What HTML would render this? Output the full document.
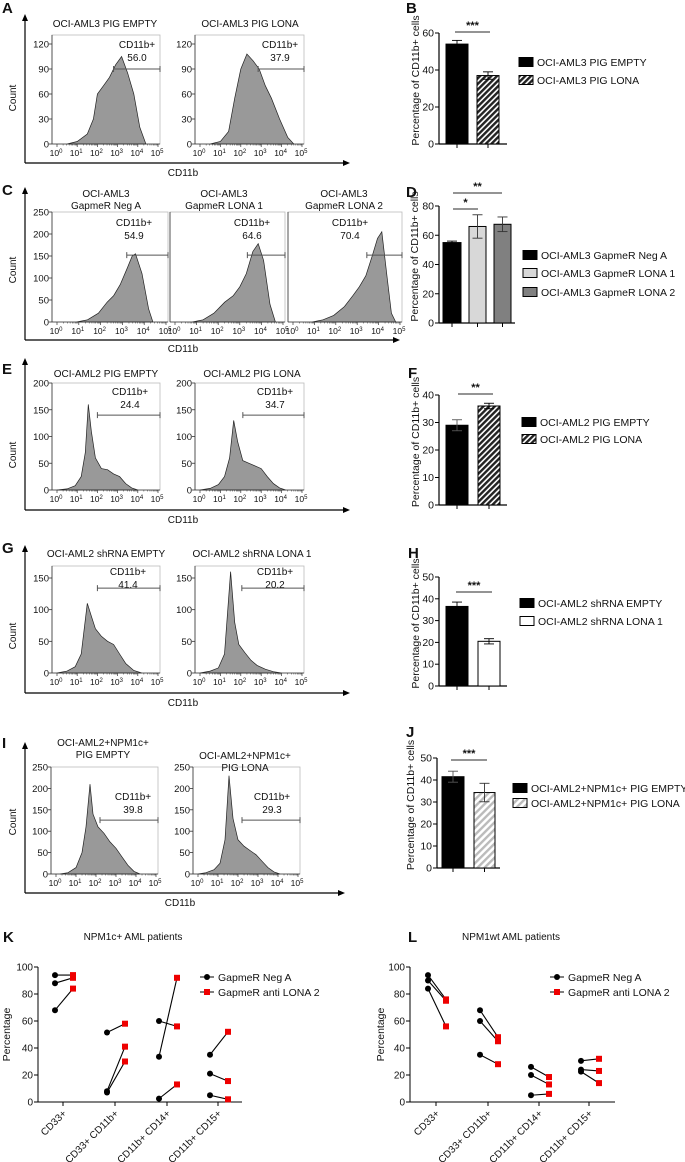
<!DOCTYPE html>
<html><head><meta charset="utf-8">
<style>
html,body{margin:0;padding:0;background:#fff;}
svg{display:block;font-family:"Liberation Sans Narrow","Liberation Sans",Arial,sans-serif;}
</style></head>
<body>
<svg id="fig" width="685" height="1162" viewBox="0 0 685 1162" xmlns="http://www.w3.org/2000/svg">
<defs>
<pattern id="hatchDark" patternUnits="userSpaceOnUse" width="4" height="4" patternTransform="rotate(45)">
<rect width="4" height="4" fill="#fff"/><rect width="2.4" height="4" fill="#222"/></pattern>
<pattern id="hatchLight" patternUnits="userSpaceOnUse" width="5" height="5" patternTransform="rotate(45)">
<rect width="5" height="5" fill="#fff"/><rect width="2.4" height="5" fill="#bbb"/></pattern>
</defs>
<g id="root"></g>
</svg>
<script>
// ---------- DATA ----------
// histogram A
const a1D=[0.5,1.0,1.5,1.8,2.0,2.3,2.6,2.9,3.2,3.5,3.8,4.1,4.4];
const a1C=[0,3,12,30,60,70,80,95,105,85,60,20,0];
const a2D=[0.5,1.0,1.4,1.7,2.0,2.3,2.6,2.9,3.2,3.5,3.9,4.3,4.6];
const a2C=[0,3,15,55,90,108,100,90,70,55,30,8,0];
// histogram C
const c1D=[0.9,1.4,1.9,2.3,2.6,2.9,3.2,3.45,3.6,3.9,4.2,4.4];
const c1C=[0,5,20,45,60,85,120,150,155,110,30,0];
const c2D=[0.8,1.3,1.8,2.3,2.7,3.0,3.3,3.6,3.85,4.1,4.4,4.65];
const c2C=[0,5,20,45,60,80,110,160,178,140,40,0];
const c3D=[0.9,1.4,1.9,2.4,2.8,3.1,3.4,3.7,3.95,4.15,4.4,4.6,4.8];
const c3C=[0,5,15,35,60,80,105,150,190,205,100,20,0];
// histogram E
const e1D=[0,0.5,0.9,1.2,1.4,1.55,1.7,1.9,2.2,2.5,2.8,3.1,3.4,3.7,4.0];
const e1C=[0,2,8,25,70,160,110,60,40,38,30,25,12,4,0];
const e2D=[0,0.5,0.9,1.2,1.45,1.65,1.85,2.1,2.4,2.7,3.0,3.3,3.6,3.9,4.2];
const e2C=[0,3,10,25,60,130,90,55,50,45,40,25,12,4,0];
// histogram G
const g1D=[0,0.5,0.9,1.2,1.5,1.7,1.9,2.2,2.5,2.8,3.1,3.4,3.8,4.2];
const g1C=[0,3,10,30,110,90,70,58,50,45,30,15,4,0];
const g2D=[0,0.5,0.9,1.2,1.5,1.7,1.9,2.2,2.5,2.8,3.2,3.6,4.0];
const g2C=[0,3,8,30,160,80,45,32,20,12,6,2,0];
// histogram I
const i1D=[0.2,0.6,1.0,1.3,1.5,1.7,1.85,2.1,2.4,2.7,3.0,3.3,3.6,3.9,4.2];
const i1C=[0,3,15,50,110,210,140,110,95,75,60,40,20,6,0];
const i2D=[0,0.4,0.8,1.1,1.35,1.55,1.75,2.0,2.3,2.6,2.9,3.2,3.5,3.8,4.1];
const i2C=[0,3,10,25,80,230,130,80,65,55,45,30,15,5,0];
// bar charts
const bVals=[54,37], bErr=[2,2];
const dVals=[55,66,67.5], dErr=[1,8,5];
const fVals=[29,36], fErr=[2,1];
const hVals=[36.5,20.5], hErr=[2,1.2];
const jVals=[41.5,34.3], jErr=[2.5,4.2];
// patient panels
const patCats=["CD33+","CD33+ CD11b+","CD11b+ CD14+","CD11b+ CD15+"];
const kNeg=[[94,88,68],[51.5,8,7],[60,33.5,2.5],[35,21,5]];
const kLona=[[94,92,84],[58,41,30],[56,92,13],[52,15.5,2]];
const lNeg=[[94,90,84],[68,60,35],[26,20,5],[30.5,24,22.5]];
const lLona=[[76,75,56],[48,45,28],[18.5,13,6],[32,23,14]];

// ---------- HELPERS ----------
const NS="http://www.w3.org/2000/svg";
const root=document.getElementById('root');
function el(tag,attrs,parent,txt){
  const e=document.createElementNS(NS,tag);
  for(const k in attrs)e.setAttribute(k,attrs[k]);
  if(txt!==undefined)e.textContent=txt;
  (parent||root).appendChild(e);return e;
}
function grp(name){const g=el('g',{});
  
  
  return g;}
function txt(g,x,y,s,size,anchor,extra){
  const t=el('text',Object.assign({x:x,y:y,'font-size':size||10,'text-anchor':anchor||'middle',fill:'#111'},extra||{}),g,s);
  return t;}
function panelLabel(x,y,s){const g=grp('panel-label-'+s.toLowerCase());
  txt(g,x,y,s,15,'start',{'font-weight':'bold','font-family':'Liberation Sans, sans-serif'});}
function arrowAxes(name,x,top,y,right,lblX,lblY,countY){
  const g=grp(name);
  el('line',{x1:x,y1:top+5,x2:x,y2:y,stroke:'#000','stroke-width':1.2},g);
  el('polygon',{points:`${x-3},${top+7} ${x},${top} ${x+3},${top+7}`,fill:'#000'},g);
  el('line',{x1:x,y1:y,x2:right-5,y2:y,stroke:'#000','stroke-width':1.2},g);
  el('polygon',{points:`${right-7},${y-3} ${right},${y} ${right-7},${y+3}`,fill:'#000'},g);
  const t=txt(g,lblX,lblY,'CD11b',10);
  
  
  const c=txt(g,0,0,'Count',10,'middle',{transform:`translate(16,${countY}) rotate(-90)`});
  
  
}
function hist(name,o){
  const g=grp(name);
  const bx=o.bx,bw=o.bw,top=o.top,y0=o.y0;
  const ys=v=>y0-(v/o.refV)*(y0-o.refP);
  const xs=d=>bx+5+d*(bw-7)/5;
  el('rect',{x:bx,y:top,width:bw,height:y0-top,fill:'none',stroke:'#bbb','stroke-width':0.8},g);
  // histogram
  let pts=`${xs(o.d[0])},${ys(0)} `;
  for(let i=0;i<o.d.length;i++){pts+=`${xs(o.d[i]).toFixed(1)},${ys(o.c[i]).toFixed(1)} `;}
  pts+=`${xs(o.d[o.d.length-1])},${ys(0)}`;
  const p=el('polygon',{points:pts,fill:'#999',stroke:'#222','stroke-width':0.7},g);
  
  
  // y axis
  el('line',{x1:bx,y1:top,x2:bx,y2:y0,stroke:'#333','stroke-width':0.8},g);
  o.ticks.forEach(v=>{const y=ys(v);
    el('line',{x1:bx-3,y1:y,x2:bx,y2:y,stroke:'#333','stroke-width':0.8},g);
    txt(g,bx-3,y+3.5,String(v),9.5,'end');});
  // x ticks
  el('line',{x1:bx,y1:y0,x2:bx+bw,y2:y0,stroke:'#333','stroke-width':0.8},g);
  for(let d=0;d<=5;d++){const x=xs(d);
    el('line',{x1:x,y1:y0,x2:x,y2:y0+3,stroke:'#333','stroke-width':0.7},g);
    if(d<5)for(let m=2;m<10;m++){const xm=xs(d+Math.log10(m));el('line',{x1:xm,y1:y0,x2:xm,y2:y0+1.5,stroke:'#333','stroke-width':0.5},g);}
    const t=txt(g,x-1,y0+12,'10',8.5,'middle');
    el('tspan',{dy:-3,'font-size':6},t,String(d));}
  // gate
  const gy=ys(o.gC),gx1=xs(o.gD),gx2=bx+bw;
  const gg=el('g',{},g);
  
  
  el('line',{x1:gx1,y1:gy,x2:gx2,y2:gy,stroke:'#555','stroke-width':1},gg);
  el('line',{x1:gx1,y1:gy-3,x2:gx1,y2:gy+3,stroke:'#555','stroke-width':1},gg);
  el('line',{x1:gx2,y1:gy-3,x2:gx2,y2:gy+3,stroke:'#555','stroke-width':1},gg);
  txt(gg,o.lx,o.ly,'CD11b+',10);
  txt(gg,o.lx,o.ly+13,o.val,10);
  // title
  o.title.forEach((s,i)=>txt(g,o.tx,o.ty+i*12,s,10));
}
function bars(name,o){
  const g=grp(name);
  const ys=v=>o.y0-(v/o.max)*(o.y0-o.yTop);
  el('line',{x1:o.ax,y1:o.yTop,x2:o.ax,y2:o.y0,stroke:'#000','stroke-width':1.2},g);
  el('line',{x1:o.ax,y1:o.y0,x2:o.xEnd,y2:o.y0,stroke:'#000','stroke-width':1.2},g);
  o.ticks.forEach(v=>{const y=ys(v);
    el('line',{x1:o.ax-4,y1:y,x2:o.ax,y2:y,stroke:'#000','stroke-width':1},g);
    txt(g,o.ax-5,y+3.5,String(v),10.5,'end',{'font-family':'Liberation Sans, sans-serif'});});
  const yt=txt(g,0,0,'Percentage of CD11b+ cells',10.5,'middle',{'font-family':'Liberation Sans, sans-serif',transform:`translate(${o.titleX},${(o.yTop+o.y0)/2-8}) rotate(-90)`});
  
  
  o.vals.forEach((v,i)=>{
    const [x1,x2]=o.bx[i];const y=ys(v);const cx=(x1+x2)/2;
    const r=el('rect',{x:x1,y:y,width:x2-x1,height:o.y0-y,fill:o.fills[i],stroke:'#000','stroke-width':1},g);
    
    
    const eh=ys(v+o.err[i]),el2=ys(v-o.err[i]);
    el('line',{x1:cx,y1:eh,x2:cx,y2:el2,stroke:o.errC[i],'stroke-width':0.9},g);
    el('line',{x1:cx-5,y1:eh,x2:cx+5,y2:eh,stroke:o.errC[i],'stroke-width':0.9},g);
    el('line',{x1:cx-5,y1:el2,x2:cx+5,y2:el2,stroke:o.errC[i],'stroke-width':0.9},g);
    el('line',{x1:cx,y1:o.y0,x2:cx,y2:o.y0+4,stroke:'#000','stroke-width':1},g);
  });
  o.sig.forEach(s=>{const sg=el('g',{},g);
    
    
    el('line',{x1:s[0],y1:s[2],x2:s[1],y2:s[2],stroke:'#555','stroke-width':1.3},sg);
    txt(sg,(s[0]+s[1])/2,s[2]-3,s[3],11,'middle',{'font-weight':'bold'});});
  o.legend.forEach((L,i)=>{const lg=el('g',{},g);
    
    
    const y=o.legY[i];
    el('rect',{x:o.legX,y:y-4.5,width:14,height:9,fill:o.fills[i],stroke:'#000','stroke-width':1},lg);
    txt(lg,o.legX+18,y+4,L,10.5,'start');});
}
function patients(name,o){
  const g=grp(name);
  const ys=v=>o.y0-(v/100)*(o.y0-o.y100);
  el('line',{x1:o.ax,y1:o.y100,x2:o.ax,y2:o.y0,stroke:'#000','stroke-width':1},g);
  el('line',{x1:o.ax,y1:o.y0,x2:o.xEnd,y2:o.y0,stroke:'#000','stroke-width':1},g);
  [0,20,40,60,80,100].forEach(v=>{const y=ys(v);
    el('line',{x1:o.ax-4,y1:y,x2:o.ax,y2:y,stroke:'#000','stroke-width':1},g);
    txt(g,o.ax-5,y+3.5,String(v),10,'end');});
  const yt=txt(g,0,0,'Percentage',10.5,'middle',{transform:`translate(${o.titleX},${(o.y0+o.y100)/2}) rotate(-90)`});
  
  
  txt(g,o.tx,940,o.title,10);
  patCats.forEach((c,i)=>{const tx=o.ticks[i];
    el('line',{x1:tx,y1:o.y0,x2:tx,y2:o.y0+4,stroke:'#000','stroke-width':1},g);
    const t=txt(g,0,0,c,10,'end',{transform:`translate(${tx+4},${o.y0+12}) rotate(-45)`});
    
    
    const xb=tx-8,xr=tx+10;
    o.neg[i].forEach((v,j)=>{const w=o.lona[i][j];
      el('line',{x1:xb,y1:ys(v),x2:xr,y2:ys(w),stroke:'#000','stroke-width':1.1},g);});
    o.neg[i].forEach(v=>{const c1=el('circle',{cx:xb,cy:ys(v),r:3,fill:'#000'},g);
      
      });
    o.lona[i].forEach(v=>{const r=el('rect',{x:xr-3,y:ys(v)-3,width:6,height:6,fill:'#e00'},g);
      
      });
  });
  const l1=el('g',{},g);
  
  
  el('line',{x1:o.lx-7,y1:977,x2:o.lx+7,y2:977,stroke:'#000'},l1);
  el('circle',{cx:o.lx,cy:977,r:3},l1);
  txt(l1,o.lx+11,981,'GapmeR Neg A',10.5,'start');
  const l2=el('g',{},g);
  
  
  el('line',{x1:o.lx-7,y1:992,x2:o.lx+7,y2:992,stroke:'#000'},l2);
  el('rect',{x:o.lx-3,y:989,width:6,height:6,fill:'#e00'},l2);
  txt(l2,o.lx+11,996,'GapmeR anti LONA 2',10.5,'start');
}

// ---------- PANELS ----------
panelLabel(2,13,'A');
arrowAxes('panel-a-axes',25,14,163,350,183,176,98);
hist('a-pig-empty',{bx:52,bw:108,top:35,y0:144,refV:120,refP:44,ticks:[0,30,60,90,120],d:a1D,c:a1C,gD:2.8,gC:90,lx:137,ly:48,val:'56.0',title:['OCI-AML3 PIG EMPTY'],tx:105,ty:27});
hist('a-pig-lona',{bx:195,bw:109,top:35,y0:144,refV:120,refP:44,ticks:[0,30,60,90,120],d:a2D,c:a2C,gD:2.85,gC:90,lx:280,ly:48,val:'37.9',title:['OCI-AML3 PIG LONA'],tx:250,ty:27});
panelLabel(406,13,'B');
bars('panel-b-bars',{ax:439,y0:144,yTop:33,max:60,xEnd:507,ticks:[0,20,40,60],titleX:419,vals:bVals,err:bErr,
  bx:[[446,468],[477,499]],fills:['#000','url(#hatchDark)'],errC:['#000','#000'],sig:[[455,490,32,'***']],
  legend:['OCI-AML3 PIG EMPTY','OCI-AML3 PIG LONA'],legX:519,legY:[62,80]});

panelLabel(2,195,'C');
arrowAxes('panel-c-axes',25,187,340,400,183,352,270);
hist('c-gapmer-neg-a',{bx:52,bw:116,top:212,y0:322,refV:250,refP:212,ticks:[0,50,100,150,200,250],d:c1D,c:c1C,gD:3.2,gC:152,lx:134,ly:226,val:'54.9',title:['OCI-AML3','GapmeR Neg A'],tx:106,ty:197});
hist('c-gapmer-lona-1',{bx:170,bw:115,top:212,y0:322,refV:250,refP:212,ticks:[],d:c2D,c:c2C,gD:3.35,gC:152,lx:252,ly:226,val:'64.6',title:['OCI-AML3','GapmeR LONA 1'],tx:224,ty:197});
hist('c-gapmer-lona-2',{bx:288,bw:114,top:212,y0:322,refV:250,refP:212,ticks:[],d:c3D,c:c3C,gD:3.45,gC:152,lx:350,ly:226,val:'70.4',title:['OCI-AML3','GapmeR LONA 2'],tx:344,ty:197});
panelLabel(406,197,'D');
bars('panel-d-bars',{ax:439,y0:323,yTop:206,max:80,xEnd:515,ticks:[0,20,40,60,80],titleX:418,vals:dVals,err:dErr,
  bx:[[443,461],[469,486],[494,511]],fills:['#000','#d8d8d8','#808080'],errC:['#000','#333','#333'],
  sig:[[453,478,209,'*'],[453,502,193,'**']],
  legend:['OCI-AML3 GapmeR Neg A','OCI-AML3 GapmeR LONA 1','OCI-AML3 GapmeR LONA 2'],legX:523,legY:[255,273,292]});

panelLabel(2,374,'E');
arrowAxes('panel-e-axes',25,358,510,350,183,523,455);
hist('e-pig-empty',{bx:52,bw:108,top:383,y0:490,refV:200,refP:383,ticks:[0,50,100,150,200],d:e1D,c:e1C,gD:2.0,gC:140,lx:130,ly:395,val:'24.4',title:['OCI-AML2 PIG EMPTY'],tx:106,ty:377});
hist('e-pig-lona',{bx:195,bw:109,top:383,y0:490,refV:200,refP:383,ticks:[0,50,100,150,200],d:e2D,c:e2C,gD:2.1,gC:140,lx:275,ly:395,val:'34.7',title:['OCI-AML2 PIG LONA'],tx:252,ty:377});
panelLabel(408,378,'F');
bars('panel-f-bars',{ax:439,y0:505,yTop:395,max:40,xEnd:507,ticks:[0,10,20,30,40],titleX:419,vals:fVals,err:fErr,
  bx:[[446,468],[478,500]],fills:['#000','url(#hatchDark)'],errC:['#555','#000'],sig:[[458,493,394,'**']],
  legend:['OCI-AML2 PIG EMPTY','OCI-AML2 PIG LONA'],legX:522,legY:[422,439]});

panelLabel(2,553,'G');
arrowAxes('panel-g-axes',25,545,693,350,183,706,636);
hist('g-shrna-empty',{bx:52,bw:108,top:566,y0:673,refV:150,refP:578,ticks:[0,50,100,150],d:g1D,c:g1C,gD:2.0,gC:134,lx:128,ly:575,val:'41.4',title:['OCI-AML2 shRNA EMPTY'],tx:106,ty:557});
hist('g-shrna-lona-1',{bx:195,bw:109,top:566,y0:673,refV:150,refP:578,ticks:[0,50,100,150],d:g2D,c:g2C,gD:2.05,gC:134,lx:275,ly:575,val:'20.2',title:['OCI-AML2 shRNA LONA 1'],tx:252,ty:557});
panelLabel(408,558,'H');
bars('panel-h-bars',{ax:439,y0:686,yTop:577,max:50,xEnd:507,ticks:[0,10,20,30,40,50],titleX:419,vals:hVals,err:hErr,
  bx:[[446,468],[478,500]],fills:['#000','#fff'],errC:['#000','#000'],sig:[[456,492,592,'***']],
  legend:['OCI-AML2 shRNA EMPTY','OCI-AML2 shRNA LONA 1'],legX:520,legY:[603,621]});

panelLabel(2,748,'I');
arrowAxes('panel-i-axes',25,742,893,345,180,906,822);
hist('i-npm1c-pig-empty',{bx:51,bw:107,top:767,y0:874,refV:250,refP:767,ticks:[0,50,100,150,200,250],d:i1D,c:i1C,gD:2.2,gC:126,lx:133,ly:800,val:'39.8',title:['OCI-AML2+NPM1c+','PIG EMPTY'],tx:103,ty:746});
hist('i-npm1c-pig-lona',{bx:193,bw:107,top:767,y0:874,refV:250,refP:767,ticks:[0,50,100,150,200,250],d:i2D,c:i2C,gD:2.2,gC:126,lx:272,ly:800,val:'29.3',title:['OCI-AML2+NPM1c+','PIG LONA'],tx:245,ty:759});
panelLabel(406,737,'J');
bars('panel-j-bars',{ax:437,y0:868,yTop:758,max:50,xEnd:500,ticks:[0,10,20,30,40,50],titleX:414,vals:jVals,err:jErr,
  bx:[[442,464],[474,495]],fills:['#000','url(#hatchLight)'],errC:['#555','#333'],sig:[[451,487,760,'***']],
  legend:['OCI-AML2+NPM1c+ PIG EMPTY','OCI-AML2+NPM1c+ PIG LONA'],legX:513,legY:[788,803]});

panelLabel(3,942,'K');
patients('panel-k-patients',{ax:38,xEnd:242,y0:1102,y100:967,titleX:10,title:'NPM1c+ AML patients',tx:133,ticks:[63,115,167,218],neg:kNeg,lona:kLona,lx:207});
panelLabel(408,942,'L');
patients('panel-l-patients',{ax:410,xEnd:615,y0:1102,y100:967,titleX:384,title:'NPM1wt AML patients',tx:511,ticks:[436,488,539,589],neg:lNeg,lona:lLona,lx:557});
</script>
</body></html>
